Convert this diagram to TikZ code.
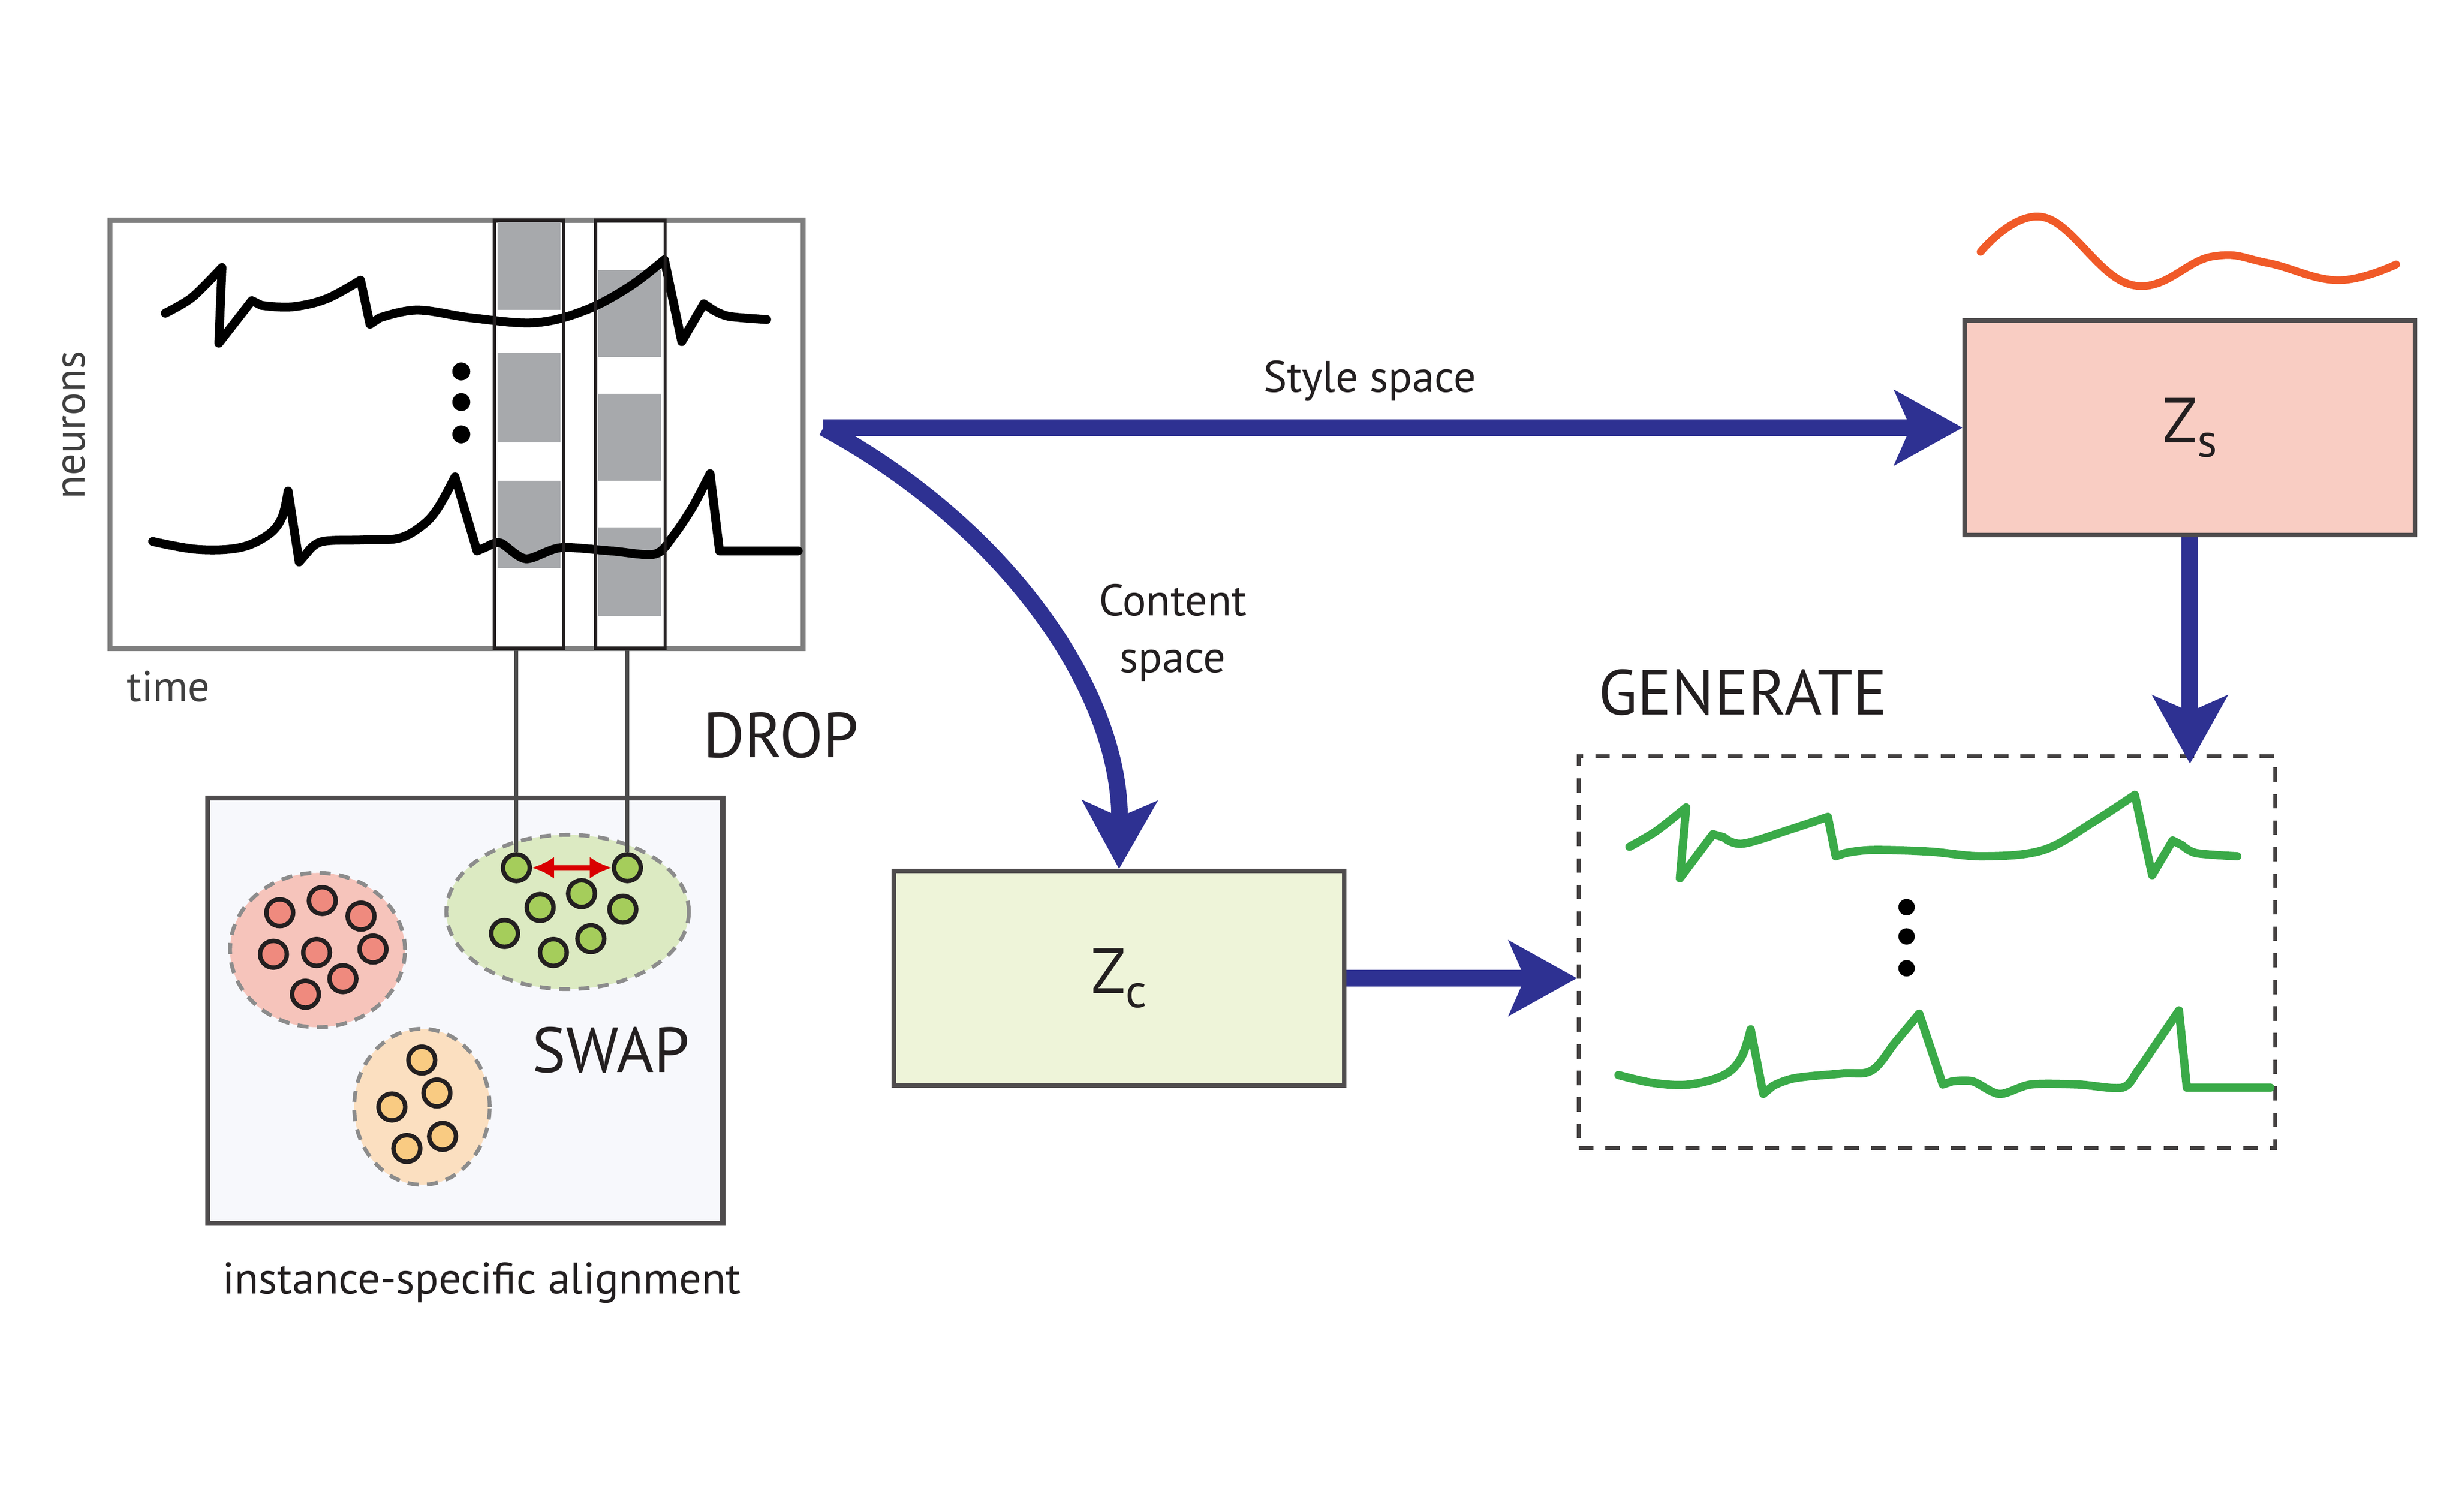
\documentclass[tikz,border=0pt]{standalone}
\usepackage{fontspec}
\setmainfont{PT Sans}
\usetikzlibrary{arrows.meta,shapes.geometric,positioning}

\definecolor{framegray}{HTML}{7F7F7F}
\definecolor{bargray}{HTML}{A7A9AC}
\definecolor{flowblue}{HTML}{2E3192}
\definecolor{stylefill}{HTML}{F9CDC3}
\definecolor{contentfill}{HTML}{EEF4D9}
\definecolor{swapfill}{HTML}{F7F8FC}
\definecolor{pinkcl}{HTML}{F6C4BB}
\definecolor{redcell}{HTML}{EF8A7E}
\definecolor{greencl}{HTML}{DCEAC2}
\definecolor{greencell}{HTML}{A5CD5B}
\definecolor{orangecl}{HTML}{FBDFC0}
\definecolor{orangecell}{HTML}{F9CB82}
\definecolor{tracegreen}{HTML}{3AAA48}
\definecolor{waveorange}{HTML}{F05A28}
\definecolor{inkdark}{HTML}{231F20}

\newcommand{\zsub}[1]{\raisebox{-2.6pt}{\fontsize{8.5}{9}\selectfont #1}}

\tikzset{
  panel/.style={draw=framegray, fill=white, line width=0.9pt, minimum width=4.4cm, minimum height=2.72cm, inner sep=0pt},
  column/.style={draw=inkdark, line width=0.6pt, minimum width=0.44cm, minimum height=2.72cm, inner sep=0pt},
  swapbox/.style={draw=inkdark!80, fill=swapfill, line width=0.9pt, minimum width=3.27cm, minimum height=2.7cm, inner sep=0pt},
  zbox/.style={draw=inkdark!80, line width=0.8pt, minimum width=2.86cm, minimum height=1.36cm, inner sep=0pt, text=inkdark, font=\fontsize{11.5}{12}\selectfont},
  genbox/.style={draw=inkdark!85, dashed, dash pattern=on 2.6pt off 2.2pt, line width=0.7pt, minimum width=4.42cm, minimum height=2.49cm, inner sep=0pt},
  cluster/.style={ellipse, draw=black!45, dashed, dash pattern=on 2pt off 1.5pt, line width=0.7pt, inner sep=0pt},
  cell/.style={circle, draw=inkdark, line width=0.8pt, minimum size=0.17cm, inner sep=0pt},
  trace/.style={line width=1.6pt, line join=round, line cap=round},
  link/.style={draw=black!70, line width=0.7pt},
  flow/.style={draw=flowblue, line width=3pt, -{Stealth[length=4.3mm, width=4.7mm, inset=1mm]}},
  swaparrow/.style={draw=red!85!black, line width=0.9pt, {Latex[length=1.4mm, width=1.4mm]}-{Latex[length=1.4mm, width=1.4mm]}},
  bigtext/.style={text=inkdark, font=\fontsize{11.5}{12}\selectfont},
  labeltext/.style={text=inkdark, font=\fontsize{8}{10.3}\selectfont},
  smalltext/.style={text=black!75, font=\fontsize{7.8}{9}\selectfont}
}

\begin{document}
\begin{tikzpicture}[x=0.01cm, y=-0.01cm]
  \useasboundingbox (0,0) rectangle (1560,960.4);

  % recording
  \node[panel] (raster) at (290,276) {};
  \foreach \a/\b in {141/197, 224/281, 305.5/361}
    \fill[bargray] (316,\a) rectangle (356,\b);
  \foreach \a/\b in {171.5/226.7, 250.3/305.5, 335/391.4}
    \fill[bargray] (380,\a) rectangle (420,\b);
  \draw[trace] plot[smooth, tension=0.5] coordinates {(105,199) (122,189) (141,170)} -- (139,218) -- (160,191)
    -- plot[smooth, tension=0.6] coordinates {(166,194) (185,195) (207,190) (229,178)} -- (235,206)
    -- plot[smooth, tension=0.6] coordinates {(241,202) (265,197) (300,202) (340,205) (372,197) (400,182) (422,165)}
    -- (433,217) -- (447,193) -- plot[smooth] coordinates {(453,197) (463,201) (487,203)};
  \draw[trace] plot[smooth, tension=0.6] coordinates {(97,344) (125,349) (152,348) (170,340) (179,329) (183,312)} -- (190,357)
    -- plot[smooth, tension=0.6] coordinates {(196,350) (205,344) (230,343) (253,342) (268,334) (278,323) (289,303)} -- (303,350)
    -- plot[smooth, tension=0.5] coordinates {(310,347) (318,345) (334,355) (356,348) (388,350) (416,352) (428,340) (440,322) (451,301)}
    -- (457,350) -- (507,350);
  \node[column] (col1) at (336,276) {};
  \node[column] (col2) at (400.4,276) {};
  \foreach \y in {236,255.5,276}
    \fill[black] (293,\y) circle (0.057cm);
  \node[smalltext, rotate=90] (neurons) at (47,270) {neurons};
  \node[smalltext] (time) at (107,436) {time};
  \node[bigtext] (drop) at (496,467) {DROP};

  % alignment
  \node[swapbox] (swap) at (295.5,642) {};
  \node[cluster, fill=pinkcl, minimum width=1.11cm, minimum height=0.98cm] (redset) at (201.7,603.6) {};
  \node[cluster, fill=greencl, minimum width=1.54cm, minimum height=0.98cm] (greenset) at (360.5,579.4) {};
  \node[cluster, fill=orangecl, minimum width=0.86cm, minimum height=0.99cm] (orangeset) at (268,703.2) {};
  \foreach \p [count=\i] in {(177.7,579.9), (204.7,572.2), (229.3,582.1), (173.7,606.3), (201.1,605.2), (236.9,603), (217.8,621.8), (194,631.7)}
    \node[cell, fill=redcell] (r\i) at \p {};
  \foreach \p [count=\i] in {(328,551.3), (398.5,551.3), (343.1,576.6), (369.4,567.8), (395.6,577.7), (320.5,593.1), (351.5,605.2), (375.3,596.4)}
    \node[cell, fill=greencell] (g\i) at \p {};
  \foreach \p [count=\i] in {(267.9,673.5), (277.5,694.4), (248.9,703.3), (281.1,722), (258.4,729.7)}
    \node[cell, fill=orangecell] (o\i) at \p {};
  \draw[link] (g1 |- col1.south) -- (g1);
  \draw[link] (g2 |- col2.south) -- (g2);
  \draw[swaparrow] (g1) -- (g2);
  \node[bigtext] (swaplbl) at (388,667) {SWAP};
  \node[labeltext] (align) at (306,815) {instance-specific alignment};

  % latent spaces
  \coordinate (split) at (523,271.75);
  \node[zbox, fill=stylefill] (zs) at (1391,271.75) {Z\zsub{s}};
  \node[zbox, fill=contentfill] (zc) at (710.8,621.5) {Z\zsub{c}};
  \node[genbox] (gen) at (1224,605) {};
  \draw[flow] (split) -- (zs);
  \draw[flow] (split) .. controls (640,335) and (712,440) .. (zc.north);
  \draw[flow] (zc.east) -- (zc.east -| gen.west);
  \draw[flow] (zs) -- ([yshift=-0.06cm]zs.south |- gen.north);
  \node[labeltext] (stylelbl) at (870,242) {Style space};
  \node[labeltext, align=center] (contentlbl) at (745,402) {Content\\space};
  \draw[waveorange, line width=1.4pt, line cap=round] plot[smooth, tension=0.7] coordinates {(1258,160) (1298,138) (1354,181) (1405,163) (1440,167) (1485,178) (1522,168)};

  % generated
  \node[bigtext] (genlbl) at (1107,440) {GENERATE};
  \draw[trace, tracegreen, line width=1.5pt] plot[smooth, tension=0.5] coordinates {(1035,538) (1052,528) (1071,513)} -- (1067,558) -- (1088,530)
    -- plot[smooth, tension=0.6] coordinates {(1095,532) (1107,536) (1137,527) (1161,519)} -- (1166,544)
    -- plot[smooth, tension=0.6] coordinates {(1172,542) (1189,540) (1225,541) (1260,544) (1298,540) (1330,522) (1356,505)}
    -- (1367,556) -- (1380,534) -- plot[smooth] coordinates {(1386,537) (1395,542) (1421,544)};
  \draw[trace, tracegreen, line width=1.5pt] plot[smooth, tension=0.6] coordinates {(1028,683) (1050,688) (1073,689) (1095,683) (1106,672) (1112,654)} -- (1120,695)
    -- plot[smooth, tension=0.6] coordinates {(1126,690) (1140,685) (1170,682) (1189,680) (1204,662) (1219,644)} -- (1234,689)
    -- plot[smooth, tension=0.5] coordinates {(1240,687) (1253,687) (1270,695) (1290,689) (1320,689) (1348,691) (1358,680) (1369,664) (1384,642)}
    -- (1389,691) -- (1442,691);
  \foreach \y in {576.4,595,615.2}
    \fill[black] (1211,\y) circle (0.052cm);
\end{tikzpicture}
\end{document}
